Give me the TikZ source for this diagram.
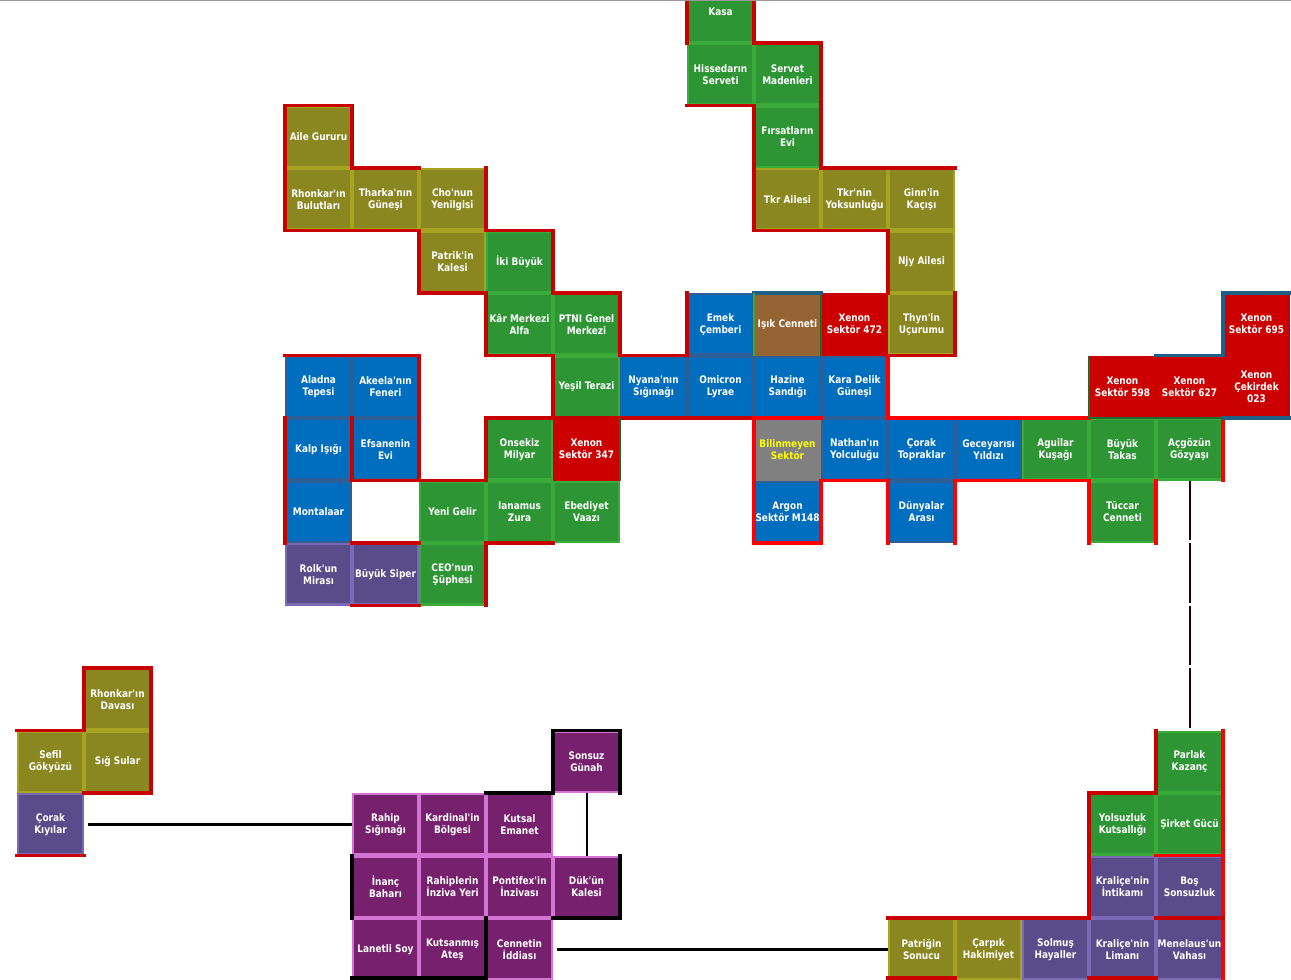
\documentclass[tikz,border=0pt]{standalone}
\usepackage{fontspec}
\newfontfamily\cellfont{DejaVu Sans}[FakeStretch=0.86]
\definecolor{cgreen}{HTML}{2E9535}
\definecolor{cgreenl}{HTML}{3AAB3A}
\definecolor{colive}{HTML}{8A8620}
\definecolor{colivel}{HTML}{A5A320}
\definecolor{cblue}{HTML}{006EBE}
\definecolor{cbluel}{HTML}{2D5E96}
\definecolor{cslate}{HTML}{594C8A}
\definecolor{cslatel}{HTML}{7A6AB6}
\definecolor{cmag}{HTML}{76206E}
\definecolor{cmagl}{HTML}{D374D3}
\definecolor{cred}{HTML}{CC0000}
\definecolor{cbrown}{HTML}{966432}
\definecolor{cgray}{HTML}{808080}
\definecolor{bdr}{HTML}{C80000}
\definecolor{bbr}{HTML}{FF0000}
\definecolor{bteal}{HTML}{1E5F86}
\definecolor{bdg}{HTML}{1D6A2A}
\definecolor{ctxtyellow}{HTML}{FFFF00}
\begin{document}
\begin{tikzpicture}[x=50.25pt,y=-46.875pt,
  cellbase/.style={minimum width=48.45pt,minimum height=45.075pt,inner sep=0pt,
    line width=1.8pt,align=center,text=white,
    font=\cellfont\bfseries\fontsize{7.8}{9}\selectfont},
  gn/.style={cellbase,fill=cgreen,draw=cgreenl},
  ol/.style={cellbase,fill=colive,draw=colivel},
  bl/.style={cellbase,fill=cblue,draw=cbluel},
  sl/.style={cellbase,fill=cslate,draw=cslatel},
  mg/.style={cellbase,fill=cmag,draw=cmagl},
  rd/.style={cellbase,fill=cred,draw=cred},
  brn/.style={cellbase,fill=cbrown,draw=cbrown},
  gy/.style={cellbase,fill=cgray,draw=cgray,text=ctxtyellow},
  rb/.style={draw=bdr,line width=2.6pt,line cap=rect},
  rbb/.style={draw=bbr,line width=2.6pt,line cap=rect},
  kb/.style={draw=black,line width=2.6pt,line cap=rect},
  bgl/.style={draw=bdg,line width=2pt},
  btl/.style={draw=bteal,line width=2.4pt,line cap=rect},
  conn/.style={draw=black,line width=2.3pt},
  connv/.style={draw=black!90!blue,line width=1.5pt},
  conndash/.style={draw=black!85!red,line width=1.5pt,dash pattern=on 44.6pt off 2.3pt}]
\useasboundingbox (-0.25373,0.312) rectangle (19.01493,15.992);
\clip (-0.25373,0.312) rectangle (19.01493,15.992);
% ---- upper cells
\node[gn] (kasa) at (10.5,0.5) {Kasa};
\node[gn] (hisse) at (10.5,1.5) {Hissedarın\\Serveti};
\node[gn] (servet) at (11.5,1.5) {Servet\\Madenleri};
\node[gn] (firsat) at (11.5,2.5) {Fırsatların\\Evi};
\node[ol] (tkr) at (11.5,3.5) {Tkr Ailesi};
\node[ol] (tkrnin) at (12.5,3.5) {Tkr'nin\\Yoksunluğu};
\node[ol] (ginn) at (13.5,3.5) {Ginn'in\\Kaçışı};
\node[ol] (njy) at (13.5,4.5) {Njy Ailesi};
\node[ol] (thyn) at (13.5,5.5) {Thyn'in\\Uçurumu};
\node[rd] (xen472) at (12.5,5.5) {Xenon\\Sektör 472};
\node[brn] (isik) at (11.5,5.5) {Işık Cenneti};
\node[bl] (emek) at (10.5,5.5) {Emek\\Çemberi};
\node[bl] (omicron) at (10.5,6.5) {Omicron\\Lyrae};
\node[bl] (hazine) at (11.5,6.5) {Hazine\\Sandığı};
\node[bl] (karadelik) at (12.5,6.5) {Kara Delik\\Güneşi};
\node[bl] (nyana) at (9.5,6.5) {Nyana'nın\\Sığınağı};
\node[gn] (yesil) at (8.5,6.5) {Yeşil Terazi};
\node[gn] (ptni) at (8.5,5.5) {PTNI Genel\\Merkezi};
\node[gn] (kar) at (7.5,5.5) {Kâr Merkezi\\Alfa};
\node[gn] (iki) at (7.5,4.5) {İki Büyük};
\node[ol] (patrik) at (6.5,4.5) {Patrik'in\\Kalesi};
\node[ol] (cho) at (6.5,3.5) {Cho'nun\\Yenilgisi};
\node[ol] (tharka) at (5.5,3.5) {Tharka'nın\\Güneşi};
\node[ol] (rhonb) at (4.5,3.5) {Rhonkar'ın\\Bulutları};
\node[ol] (aile) at (4.5,2.5) {Aile Gururu};
\node[bl] (aladna) at (4.5,6.5) {Aladna\\Tepesi};
\node[bl] (akeela) at (5.5,6.5) {Akeela'nın\\Feneri};
\node[bl] (kalp) at (4.5,7.5) {Kalp Işığı};
\node[bl] (efsane) at (5.5,7.5) {Efsanenin\\Evi};
\node[bl] (montalaar) at (4.5,8.5) {Montalaar};
\node[sl] (rolk) at (4.5,9.5) {Rolk'un\\Mirası};
\node[sl] (siper) at (5.5,9.5) {Büyük Siper};
\node[gn] (ceo) at (6.5,9.5) {CEO'nun\\Şüphesi};
\node[gn] (yenigelir) at (6.5,8.5) {Yeni Gelir};
\node[gn] (ianamus) at (7.5,8.5) {Ianamus\\Zura};
\node[gn] (ebediyet) at (8.5,8.5) {Ebediyet\\Vaazı};
\node[gn] (onsekiz) at (7.5,7.5) {Onsekiz\\Milyar};
\node[rd] (xen347) at (8.5,7.5) {Xenon\\Sektör 347};
\node[gy] (bilinmeyen) at (11.5,7.5) {Bilinmeyen\\Sektör};
\node[bl] (nathan) at (12.5,7.5) {Nathan'ın\\Yolculuğu};
\node[bl] (corakt) at (13.5,7.5) {Çorak\\Topraklar};
\node[bl] (gece) at (14.5,7.5) {Geceyarısı\\Yıldızı};
\node[gn] (aguilar) at (15.5,7.5) {Aguilar\\Kuşağı};
\node[gn] (takas) at (16.5,7.5) {Büyük\\Takas};
\node[gn] (acgozun) at (17.5,7.5) {Açgözün\\Gözyaşı};
\node[bl] (argon) at (11.5,8.5) {Argon\\Sektör M148};
\node[bl] (dunyalar) at (13.5,8.5) {Dünyalar\\Arası};
\node[gn] (tuccar) at (16.5,8.5) {Tüccar\\Cenneti};
\node[rd] (xen598) at (16.5,6.5) {Xenon\\Sektör 598};
\node[rd] (xen627) at (17.5,6.5) {Xenon\\Sektör 627};
\node[rd] (xencek) at (18.5,6.5) {Xenon\\Çekirdek\\023};
\node[rd] (xen695) at (18.5,5.5) {Xenon\\Sektör 695};
% ---- lower cells
\node[ol] (rhond) at (1.5,11.5) {Rhonkar'ın\\Davası};
\node[ol] (sefil) at (0.5,12.5) {Sefil\\Gökyüzü};
\node[ol] (sig) at (1.5,12.5) {Sığ Sular};
\node[sl] (corakk) at (0.5,13.5) {Çorak\\Kıyılar};
\node[mg] (sonsuz) at (8.5,12.5) {Sonsuz\\Günah};
\node[mg] (rahip) at (5.5,13.5) {Rahip\\Sığınağı};
\node[mg] (kardinal) at (6.5,13.5) {Kardinal'in\\Bölgesi};
\node[mg] (kutsal) at (7.5,13.5) {Kutsal\\Emanet};
\node[mg] (inanc) at (5.5,14.5) {İnanç\\Baharı};
\node[mg] (rahipler) at (6.5,14.5) {Rahiplerin\\İnziva Yeri};
\node[mg] (pontifex) at (7.5,14.5) {Pontifex'in\\İnzivası};
\node[mg] (duk) at (8.5,14.5) {Dük'ün\\Kalesi};
\node[mg] (lanetli) at (5.5,15.5) {Lanetli Soy};
\node[mg] (kutsanmis) at (6.5,15.5) {Kutsanmış\\Ateş};
\node[mg] (cennet) at (7.5,15.5) {Cennetin\\İddiası};
\node[gn] (parlak) at (17.5,12.5) {Parlak\\Kazanç};
\node[gn] (yolsuz) at (16.5,13.5) {Yolsuzluk\\Kutsallığı};
\node[gn] (sirket) at (17.5,13.5) {Şirket Gücü};
\node[sl] (kralint) at (16.5,14.5) {Kraliçe'nin\\İntikamı};
\node[sl] (bos) at (17.5,14.5) {Boş\\Sonsuzluk};
\node[ol] (patrigin) at (13.5,15.5) {Patriğin\\Sonucu};
\node[ol] (carpik) at (14.5,15.5) {Çarpık\\Hakimiyet};
\node[sl] (solmus) at (15.5,15.5) {Solmuş\\Hayaller};
\node[sl] (krallim) at (16.5,15.5) {Kraliçe'nin\\Limanı};
\node[sl] (menelaus) at (17.5,15.5) {Menelaus'un\\Vahası};
% ---- region borders (upper)
\draw[rb] (10,0.2) -- (10,1);
\draw[rb] (11,0.2) -- (11,1) -- (12,1) -- (12,3) -- (14,3);
\draw[rb] (10,2) -- (11,2) -- (11,4) -- (13,4) -- (13,5);
\draw[rb] (14,5) -- (14,6) -- (13,6);
\draw[rbb] (13,6) -- (13,7) -- (16,7);
\draw[rb] (6,3) -- (5,3) -- (5,2) -- (4,2) -- (4,4) -- (6,4) -- (6,5) -- (7,5) -- (7,6) -- (8,6) -- (8,7) -- (7,7) -- (7,8) -- (5,8) -- (5,7);
\draw[rb] (8,7) -- (9,7) -- (11,7);
\draw[rbb] (11,7) -- (12,7);
\draw[rb] (7,3) -- (7,4) -- (8,4) -- (8,5) -- (9,5) -- (9,6) -- (10,6) -- (10,5);
\draw[rb] (4,6) -- (6,6) -- (6,8);
\draw[rb] (4,7) -- (4,9);
\draw[rb] (5,9) -- (6,9);
\draw[rb] (5,10) -- (6,10);
\draw[rb] (8,9) -- (7,9) -- (7,10);
\draw[rbb] (11,7) -- (11,9) -- (12,9) -- (12,8) -- (13,8) -- (13,9);
\draw[rbb] (14,9) -- (14,8) -- (16,8) -- (16,9);
\draw[rbb] (17,8) -- (17,9);
\draw[rbb] (18,7) -- (18,8);
\draw[bgl] (9,7) -- (9,8);
\draw[bgl] (12,5) -- (12,6);
\draw[btl] (11,5) -- (12,5);
\draw[draw=cgreenl,line width=1.8pt] (11,5) -- (11,6);
\draw[bgl] (16,6) -- (16,7) -- (18,7);
\draw[btl] (17,6) -- (18,6) -- (18,5) -- (19.2,5);
\draw[btl] (18,7) -- (19.2,7);
% ---- region borders (lower)
\draw[rb] (0,12) -- (1,12) -- (1,11) -- (2,11) -- (2,13) -- (1,13);
\draw[rb] (0,14) -- (1,14);
\draw[kb] (7,13) -- (8,13) -- (8,12) -- (9,12) -- (9,13);
\draw[kb] (5,14) -- (5,15);
\draw[kb] (9,14) -- (9,15) -- (8,15);
\draw[kb] (5,15.96) -- (7,15.96) -- (7,15);
\draw[rb] (13,15) -- (16,15) -- (16,13) -- (17,13) -- (17,12);
\draw[rbb] (18,12) -- (18,16);
\draw[rbb] (17,14) -- (18,14);
\draw[rb] (17,15) -- (18,15);
\draw[rb] (13,15.96) -- (14,15.96);
\draw[rb] (16,15.96) -- (17,15.96);
% ---- top rule
\draw[draw=black!40,line width=1.6pt] (-0.3,0.312) -- (19.1,0.312);
% ---- connectors
\draw[conn,shorten <=3pt] (corakk.east) -- (rahip.west);
\draw[connv] (sonsuz.south) -- (duk.north);
\draw[conn,shorten <=3pt] (cennet.east) -- (patrigin.west);
\draw[conndash] (acgozun.south) -- (parlak.north);
\end{tikzpicture}
\end{document}
